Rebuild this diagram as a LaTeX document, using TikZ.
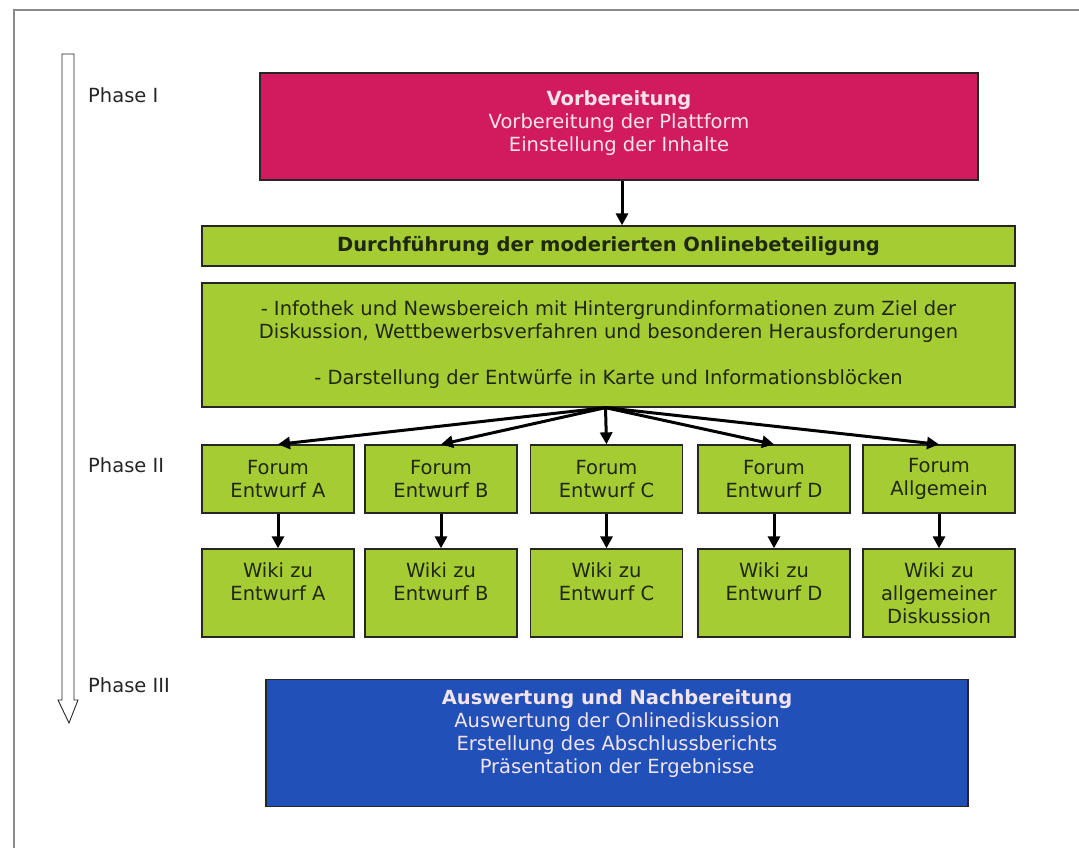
\documentclass[tikz,border=0pt]{standalone}
\usepackage{fontspec}
\setmainfont{DejaVu Sans}
\usetikzlibrary{arrows.meta}
\definecolor{pinkbox}{HTML}{D21A5E}
\definecolor{greenbox}{HTML}{A6CC34}
\definecolor{bluebox}{HTML}{2150B8}
\definecolor{frameg}{HTML}{8A8A8A}
\definecolor{gtext}{HTML}{1E2812}
\definecolor{ltext}{HTML}{F2E4EA}
\begin{document}
\begin{tikzpicture}[x=1pt,y=-1pt,
  every node/.style={font=\fontsize{19.5}{23}\selectfont, inner sep=0pt},
  box/.style={draw=black!85, line width=1.3pt, rectangle, align=center},
  pinkstyle/.style={box, fill=pinkbox, text=ltext, minimum width=718pt, minimum height=107pt},
  greenstyle/.style={box, fill=greenbox, text=gtext},
  bluestyle/.style={box, fill=bluebox, text=ltext, minimum width=702pt, minimum height=127pt},
  smallbox/.style={greenstyle, minimum width=152pt},
  conn/.style={line width=3pt, -{Triangle[width=12pt,length=12pt]}},
  phase/.style={anchor=west, text=black!85}
]
\useasboundingbox[fill=white] (0,0) rectangle (1079,847);
% frame
\draw[frameg, line width=2.5pt] (14,850) -- (14,10) -- (1082,10);
% phase arrow
\draw[black!85, line width=0.9pt, line join=miter] (62,54) -- (74,54) -- (74,700) -- (78,700) -- (69,723) -- (58,700) -- (62,700) -- cycle;
\node[phase] (p1) at (88,95) {Phase I};
\node[phase] (p2) at (88,465) {Phase II};
\node[phase] (p3) at (88,685) {Phase III};

\node[pinkstyle] (prep) at (619,126.5) {\textbf{Vorbereitung}\\Vorbereitung der Plattform\\Einstellung der Inhalte\\[-12pt]~};
\node[greenstyle, minimum width=813pt, minimum height=40pt] (bar) at (608.5,246) {\textbf{Durchführung der moderierten Onlinebeteiligung}};
\node[greenstyle, minimum width=813pt, minimum height=124pt] (info) at (608.5,345) {- Infothek und Newsbereich mit Hintergrundinformationen zum Ziel der\\Diskussion, Wettbewerbsverfahren und besonderen Herausforderungen\\[23pt]- Darstellung der Entwürfe in Karte und Informationsblöcken};

\node[smallbox, minimum height=68pt] (fA) at (278,479) {Forum\\Entwurf A};
\node[smallbox, minimum height=68pt] (fB) at (441,479) {Forum\\Entwurf B};
\node[smallbox, minimum height=68pt] (fC) at (606.5,479) {Forum\\Entwurf C};
\node[smallbox, minimum height=68pt] (fD) at (774,479) {Forum\\Entwurf D};
\node[smallbox, minimum height=68pt] (fE) at (939,479) {Forum\\Allgemein};

\node[smallbox, minimum height=88pt] (wA) at (278,593) {Wiki zu\\Entwurf A\\~};
\node[smallbox, minimum height=88pt] (wB) at (441,593) {Wiki zu\\Entwurf B\\~};
\node[smallbox, minimum height=88pt] (wC) at (606.5,593) {Wiki zu\\Entwurf C\\~};
\node[smallbox, minimum height=88pt] (wD) at (774,593) {Wiki zu\\Entwurf D\\~};
\node[smallbox, minimum height=88pt] (wE) at (939,593) {Wiki zu\\allgemeiner\\Diskussion};

\node[bluestyle] (eval) at (617,743) {\textbf{Auswertung und Nachbereitung}\\Auswertung der Onlinediskussion\\Erstellung des Abschlussberichts\\Präsentation der Ergebnisse\\~};

% connectors
\draw[conn] ([xshift=3pt]prep.south) -- ([xshift=3pt]prep.south |- bar.north);
\coordinate (fan) at ([xshift=-3pt]info.south);
\foreach \f in {fA,fB,fC,fD,fE} { \draw[conn] (fan) -- (\f.north); }
\draw[conn] (fA) -- (wA);
\draw[conn] (fB) -- (wB);
\draw[conn] (fC) -- (wC);
\draw[conn] (fD) -- (wD);
\draw[conn] (fE) -- (wE);
\end{tikzpicture}
\end{document}
